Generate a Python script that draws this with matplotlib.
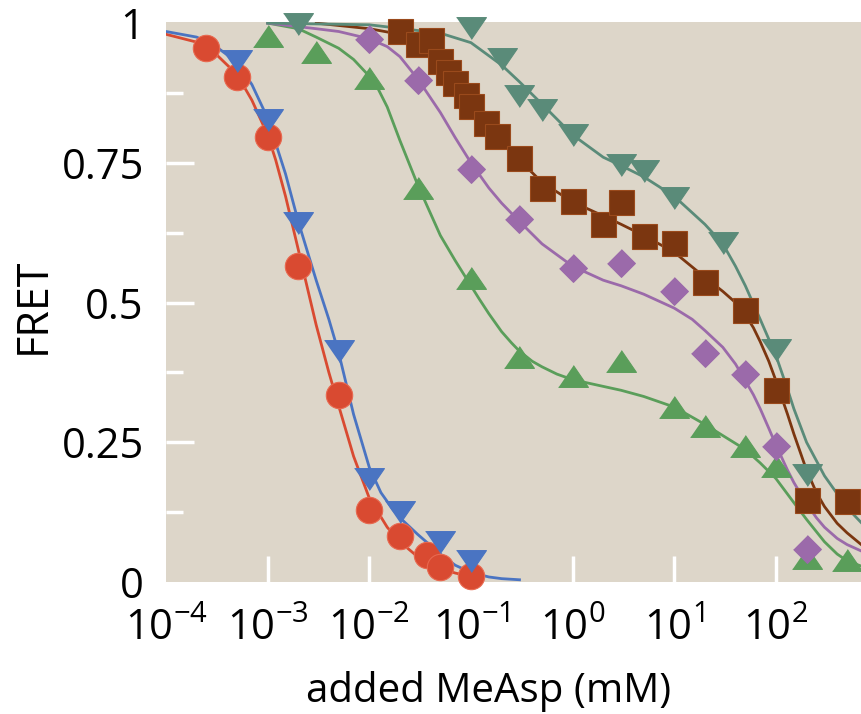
import matplotlib
matplotlib.use('Agg')
import matplotlib.pyplot as plt
from matplotlib.ticker import FixedLocator, NullLocator

plt.rcParams['font.family'] = ['Open Sans', 'DejaVu Sans']
plt.rcParams['mathtext.fontset'] = 'custom'
plt.rcParams['mathtext.rm'] = 'Open Sans'
plt.rcParams['mathtext.it'] = 'Open Sans:italic'
plt.rcParams['mathtext.bf'] = 'Open Sans:bold'

# measured points (added MeAsp in mM, FRET)
red_x = [2.5e-4, 5e-4, 1e-3, 2e-3, 5e-3, 1e-2, 2e-2, 3.7e-2, 5e-2, 1e-1]
red_y = [0.956, 0.904, 0.797, 0.566, 0.334, 0.129, 0.083, 0.048, 0.026, 0.011]

blue_x = [5e-4, 1e-3, 2e-3, 5e-3, 1e-2, 2e-2, 5e-2, 1e-1]
blue_y = [0.933, 0.826, 0.642, 0.414, 0.184, 0.125, 0.072, 0.038]

green_x = [1e-3, 3e-3, 1e-2, 3e-2, 0.1, 0.3, 1, 3, 10, 20, 50, 100, 200, 500]
green_y = [0.977, 0.949, 0.901, 0.705, 0.544, 0.403, 0.368, 0.396, 0.314, 0.280,
           0.243, 0.208, 0.043, 0.040]

purple_x = [0.01, 0.03, 0.1, 0.3, 1, 3, 10, 20, 50, 100, 200]
purple_y = [0.972, 0.899, 0.739, 0.650, 0.562, 0.571, 0.521, 0.410, 0.373, 0.243, 0.059]

brown_x = [0.02, 0.03, 0.04, 0.05, 0.06, 0.07, 0.09, 0.1, 0.14, 0.18, 0.3, 0.5, 1, 2,
           3, 5, 10, 20, 50, 100, 200, 500]
brown_y = [0.986, 0.963, 0.969, 0.933, 0.913, 0.892, 0.872, 0.852, 0.822, 0.798, 0.758,
           0.705, 0.682, 0.640, 0.680, 0.619, 0.607, 0.536, 0.486, 0.344, 0.147, 0.145]

teal_x = [2e-3, 0.1, 0.2, 0.3, 0.5, 1, 3, 5, 10, 30, 100, 200]
teal_y = [0.999, 0.991, 0.936, 0.870, 0.844, 0.799, 0.746, 0.735, 0.687, 0.607, 0.416, 0.191]

# fitted curves
red_fx = [1e-4, 2e-4, 3e-4, 5e-4, 7e-4, 1e-3, 1.2e-3, 1.5e-3, 2e-3, 3e-3, 4e-3, 5e-3,
          7e-3, 1e-2, 1.5e-2, 2e-2, 3e-2, 5e-2, 7e-2, 0.1]
red_fy = [0.98, 0.966, 0.947, 0.908, 0.862, 0.80, 0.755, 0.69, 0.595, 0.46, 0.375,
          0.315, 0.225, 0.15, 0.098, 0.072, 0.045, 0.025, 0.016, 0.01]

blue_fx = [1e-4, 2e-4, 3e-4, 5e-4, 7e-4, 1e-3, 1.5e-3, 2e-3, 3e-3, 4e-3, 5e-3, 7e-3,
           1e-2, 1.3e-2, 1.7e-2, 2e-2, 3e-2, 5e-2, 7e-2, 0.1, 0.15, 0.2, 0.3]
blue_fy = [0.985, 0.975, 0.96, 0.93, 0.89, 0.83, 0.73, 0.645, 0.54, 0.47, 0.41, 0.30,
           0.205, 0.16, 0.13, 0.115, 0.085, 0.05, 0.03, 0.017, 0.009, 0.006, 0.004]

green_fx = [1e-3, 2e-3, 3e-3, 5e-3, 7e-3, 1e-2, 1.2e-2, 1.5e-2, 2e-2, 3e-2, 5e-2, 7e-2,
            0.1, 0.12, 0.15, 0.2, 0.25, 0.3, 0.4, 0.5, 0.7, 1, 2, 3, 5, 10, 20, 30,
            50, 70, 100, 150, 200, 300, 400, 500, 700]
green_fy = [1.0, 0.99, 0.975, 0.955, 0.935, 0.905, 0.885, 0.85, 0.79, 0.71, 0.62,
            0.575, 0.53, 0.507, 0.48, 0.448, 0.428, 0.413, 0.395, 0.385, 0.372, 0.362,
            0.35, 0.343, 0.332, 0.313, 0.282, 0.262, 0.237, 0.213, 0.185, 0.142, 0.112,
            0.072, 0.05, 0.038, 0.028]

purple_fx = [1e-3, 3e-3, 5e-3, 1e-2, 1.5e-2, 2e-2, 3e-2, 5e-2, 7e-2, 0.1, 0.15, 0.2,
             0.3, 0.5, 1, 2, 3, 5, 10, 15, 20, 30, 40, 50, 60, 70, 85, 100, 130, 150,
             200, 250, 300, 400, 500, 700]
purple_fy = [1.0, 0.99, 0.985, 0.972, 0.958, 0.94, 0.90, 0.84, 0.795, 0.75, 0.705,
             0.678, 0.645, 0.605, 0.565, 0.54, 0.53, 0.515, 0.49, 0.47, 0.45, 0.42,
             0.39, 0.36, 0.335, 0.31, 0.275, 0.245, 0.20, 0.178, 0.14, 0.115, 0.098,
             0.078, 0.067, 0.055]

brown_fx = [3e-3, 1e-2, 2e-2, 3e-2, 4e-2, 5e-2, 7e-2, 0.1, 0.15, 0.2, 0.3, 0.5, 1, 2,
            3, 5, 10, 20, 30, 40, 50, 60, 70, 85, 100, 130, 150, 200, 250, 300, 400,
            500, 700]
brown_fy = [1.0, 0.99, 0.98, 0.965, 0.95, 0.935, 0.905, 0.865, 0.82, 0.79, 0.755,
            0.715, 0.68, 0.655, 0.64, 0.62, 0.59, 0.545, 0.52, 0.50, 0.478, 0.455,
            0.43, 0.395, 0.36, 0.30, 0.265, 0.20, 0.16, 0.135, 0.105, 0.088, 0.066]

teal_fx = [1e-3, 1e-2, 5e-2, 0.1, 0.2, 0.3, 0.5, 1, 2, 3, 5, 10, 20, 30, 40, 50, 70,
           100, 130, 150, 200, 300, 500, 700]
teal_fy = [1.0, 0.997, 0.982, 0.965, 0.925, 0.895, 0.855, 0.80, 0.76, 0.745, 0.725,
           0.69, 0.64, 0.605, 0.565, 0.53, 0.47, 0.405, 0.345, 0.31, 0.25, 0.19,
           0.133, 0.105]

x_ticks = [1e-4, 1e-3, 1e-2, 1e-1, 1e0, 1e1, 1e2]
y_ticks = [0, 0.25, 0.5, 0.75, 1]
y_labels = ['0', '0.25', '0.5', '0.75', '1']
y_minor = [0.125, 0.375, 0.625, 0.875]

# flat triangles and diamond like in the figure
tri_down = [(-1, 0.73), (1, 0.73), (0, -0.73)]
tri_up = [(-1, -0.73), (1, -0.73), (0, 0.73)]
diamond = [(0, 1), (1, 0), (0, -1), (-1, 0)]

series = [
    (red_x, red_y, red_fx, red_fy, '#d94a31', '#e8684f', 'o', 19),
    (blue_x, blue_y, blue_fx, blue_fy, '#4a74c2', '#4a74c2', tri_down, 21.5),
    (green_x, green_y, green_fx, green_fy, '#5a9e5a', '#5a9e5a', tri_up, 21.5),
    (purple_x, purple_y, purple_fx, purple_fy, '#9b6aaa', '#9b6aaa', diamond, 20),
    (brown_x, brown_y, brown_fx, brown_fy, '#7b3610', '#9a4a1c', 's', 18),
    (teal_x, teal_y, teal_fx, teal_fy, '#5a8b79', '#5a8b79', tri_down, 21.5),
]

fig = plt.figure(figsize=(8.62, 7.14), dpi=100)
ax = fig.add_axes([166 / 862, 1 - 582 / 714, 696 / 862, 560 / 714])
ax.set_facecolor('#ddd6c9')
for s in ax.spines.values():
    s.set_visible(False)

for xs, ys, fx, fy, col, edge, mk, ms in series:
    ax.plot(fx, fy, '-', color=col, lw=2, zorder=2)
for xs, ys, fx, fy, col, edge, mk, ms in series:
    ax.plot(xs, ys, linestyle='none', marker=mk, ms=ms, mfc=col, mec=edge, mew=0.8,
            zorder=3, clip_on=False)

ax.set_xscale('log')
ax.set_xlim(1e-4, 702)
ax.set_ylim(0.004, 1.002)

ax.xaxis.set_major_locator(FixedLocator(x_ticks))
ax.xaxis.set_minor_locator(NullLocator())
ax.set_yticks(y_ticks)
ax.set_yticklabels(y_labels)
ax.yaxis.set_minor_locator(FixedLocator(y_minor))

ax.tick_params(axis='x', which='major', direction='in', length=19, width=2.5,
               color='white', labelsize=30, pad=19)
ax.tick_params(axis='y', which='major', direction='in', length=20, width=2.5,
               color='white', labelsize=30, pad=16)
ax.tick_params(axis='y', which='minor', direction='in', length=12, width=2.5,
               color='white')
ax.tick_params(top=False, right=False)

# edge ticks are not visible in the figure
ax.xaxis.get_major_ticks()[0].tick1line.set_visible(False)
yt = ax.yaxis.get_major_ticks()
yt[0].tick1line.set_visible(False)
yt[-1].tick1line.set_visible(False)

ax.set_xlabel('added MeAsp (mM)', fontsize=29)
ax.xaxis.label.set_va('baseline')
ax.xaxis.set_label_coords(0.464, -0.214)
ax.set_ylabel('FRET', fontsize=31)
ax.yaxis.label.set_va('center')
ax.yaxis.set_label_coords(-0.19, 0.493)

fig.savefig('out.png', dpi=100)
